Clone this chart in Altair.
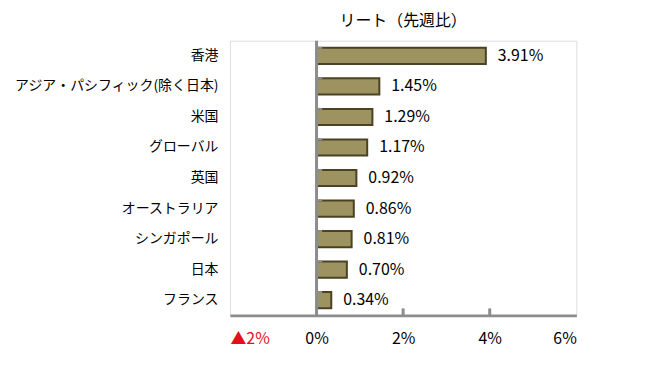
import altair as alt
import pandas as pd

FONT = "Noto Sans CJK JP"

categories = ["香港", "アジア・パシフィック(除く日本)", "米国", "グローバル", "英国",
              "オーストラリア", "シンガポール", "日本", "フランス"]
values = [3.91, 1.45, 1.29, 1.17, 0.92, 0.86, 0.81, 0.70, 0.34]
x_ticks = [-2, 0, 2, 4, 6]
inner_ticks = [2, 4]

df = pd.DataFrame({"cat": categories, "val": values})
df["label"] = df["val"].map(lambda v: f"{v:.2f}%")

W, H = 348, 276

y_enc = alt.Y("cat:N", sort=categories, title=None,
              scale=alt.Scale(paddingInner=0.47, paddingOuter=0.235),
              axis=alt.Axis(domain=False, ticks=False, labelFont=FONT, labelFontSize=14,
                            labelColor="#000000", labelPadding=12, labelFontWeight="normal",
                            labelLimit=0))
x_scale = alt.Scale(domain=[-2, 6], nice=False, zero=False)
x_enc = alt.X("val:Q", scale=x_scale, title=None,
              axis=alt.Axis(values=x_ticks, grid=False, ticks=False,
                            labelExpr="datum.value < 0 ? '▲' + abs(datum.value) + '%' : datum.value + '%'",
                            labelColor={"condition": {"test": "datum.value < 0", "value": "#e3101a"},
                                        "value": "#000000"},
                            labelFont=FONT, labelFontSize=16, labelPadding=15,
                            domainColor="#8c8c8c", domainWidth=3))

base = alt.Chart(df)

bars = base.mark_bar(fill="#9d9361", stroke="#4a4222", strokeWidth=2).encode(x=x_enc, y=y_enc)

text = base.mark_text(align="left", baseline="middle", dx=12, font=FONT, fontSize=16,
                      color="#000000").encode(x=alt.X("val:Q", scale=x_scale),
                                             y=alt.Y("cat:N", sort=categories),
                                             text="label:N")

zero = alt.Chart(pd.DataFrame({"z": [0]})).mark_rule(color="#8c8c8c", strokeWidth=3).encode(
    x=alt.X("z:Q", scale=x_scale))

cat_ticks = base.mark_rule(color="#8c8c8c", strokeWidth=2).encode(
    y=alt.Y("cat:N", sort=categories, bandPosition=0),
    x=alt.datum(0), x2=alt.datum(0.13))

bottom_ticks = alt.Chart(pd.DataFrame({"t": inner_ticks})).mark_rule(
    color="#8c8c8c", strokeWidth=3).encode(
    x=alt.X("t:Q", scale=x_scale), y=alt.value(H - 7), y2=alt.value(H))

chart = alt.layer(bars, cat_ticks, zero, bottom_ticks, text).properties(
    width=W, height=H,
    title=alt.Title("リート（先週比）", font=FONT, fontSize=16, fontWeight="normal",
                    anchor="middle", offset=10, color="#000000"),
    autosize=alt.AutoSizeParams(type="none"),
    padding={"left": 223, "top": 32, "right": 70, "bottom": 40},
).configure_view(stroke="#404040", strokeWidth=2.5).configure(background="white")

chart.save("out.html", embed_options={"renderer": "svg", "actions": False})
